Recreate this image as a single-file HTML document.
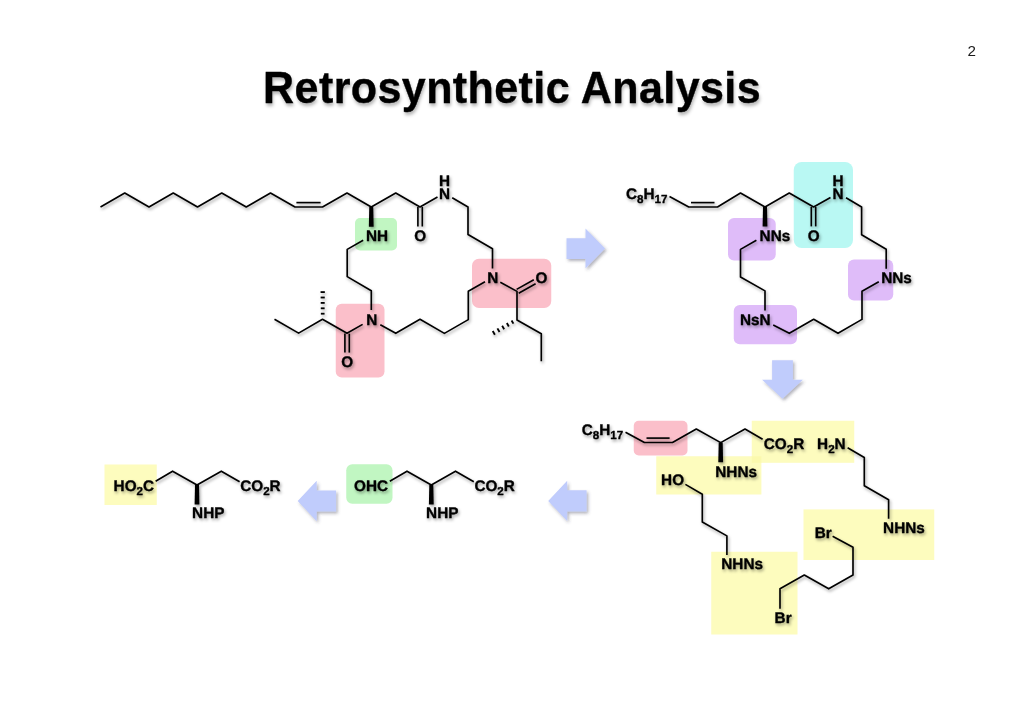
<!DOCTYPE html>
<html><head><meta charset="utf-8"><title>Retrosynthetic Analysis</title>
<style>
html,body{margin:0;padding:0;background:#fff;}
body{width:1024px;height:724px;position:relative;overflow:hidden;font-family:"Liberation Sans",sans-serif;}
#title{position:absolute;left:0;top:0;width:1024px;text-align:center;font-weight:bold;font-size:43px;line-height:43px;color:#000;white-space:nowrap;-webkit-text-stroke:0.35px #000;text-shadow:1px 2.5px 3.5px rgba(0,0,0,0.30);}
#title span{position:absolute;transform:scaleY(1.05);transform-origin:0 36.5px;left:263.1px;top:66.5px;letter-spacing:0.42px;}
#pn{position:absolute;left:967.6px;top:43.4px;font-size:15.2px;line-height:16px;color:#1a1a1a;}
#page{position:absolute;left:0;top:0;width:1024px;height:724px;filter:blur(0.45px);}
svg{position:absolute;left:0;top:0;}
svg text{font-family:"Liberation Sans",sans-serif;font-weight:bold;text-rendering:geometricPrecision;}
svg .sub{font-size:11.6px;}
svg polygon.w{fill:#000;stroke:none;}
</style></head><body>
<div id="page">
<div id="title"><span>Retrosynthetic Analysis</span></div>
<div id="pn">2</div>
<svg width="1024" height="724" viewBox="0 0 1024 724">
<defs>
<filter id="sh" x="-5%" y="-5%" width="110%" height="110%"><feGaussianBlur in="SourceGraphic" stdDeviation="0.35" result="b"/><feDropShadow in="b" dx="1.2" dy="2.0" stdDeviation="1.5" flood-color="#000" flood-opacity="0.36"/></filter>
<filter id="sha" x="-20%" y="-20%" width="150%" height="150%"><feDropShadow dx="1.6" dy="2" stdDeviation="1.4" flood-color="#3c3f55" flood-opacity="0.40"/></filter>
<filter id="soft" x="-5%" y="-5%" width="110%" height="110%"><feGaussianBlur stdDeviation="0.6"/></filter>
</defs>
<g filter="url(#soft)">
<rect x="355.00" y="218.00" width="42.00" height="32.50" rx="5" ry="5" fill="#c1f6c2"/>
<rect x="335.75" y="303.75" width="48.75" height="73.75" rx="6" ry="6" fill="#fbbfca"/>
<rect x="472.00" y="258.75" width="79.25" height="49.25" rx="7" ry="7" fill="#fbbfca"/>
<rect x="793.75" y="162.00" width="59.25" height="86.00" rx="8" ry="8" fill="#b9f8f3"/>
<rect x="728.00" y="218.00" width="47.75" height="42.50" rx="6" ry="6" fill="#dfbcf9"/>
<rect x="733.75" y="305.00" width="63.25" height="39.25" rx="6" ry="6" fill="#dfbcf9"/>
<rect x="848.00" y="259.50" width="45.25" height="41.00" rx="6" ry="6" fill="#dfbcf9"/>
<rect x="633.75" y="420.75" width="53.75" height="34.75" rx="5" ry="5" fill="#fbbfca"/>
<rect x="656.25" y="456.25" width="105.15" height="38.25" rx="0" ry="0" fill="#fdfcbe"/>
<rect x="751.75" y="420.75" width="102.50" height="42.05" rx="0" ry="0" fill="#fdfcbe"/>
<rect x="803.50" y="509.40" width="130.75" height="50.60" rx="0" ry="0" fill="#fdfcbe"/>
<rect x="711.25" y="551.75" width="86.25" height="82.75" rx="0" ry="0" fill="#fdfcbe"/>
<rect x="751.75" y="456.25" width="9.65" height="6.55" rx="0" ry="0" fill="#fbf9ae"/>
<rect x="346.25" y="464.25" width="46.25" height="39.50" rx="6" ry="6" fill="#c1f6c2"/>
<rect x="104.50" y="464.50" width="52.25" height="40.50" rx="0" ry="0" fill="#fdfcbe"/>
</g>
<g fill="#c0ccfc" filter="url(#sha)">
<polygon points="566.5,238.2 585.5,238.2 585.5,228.6 605.1,248.6 585.5,268.6 585.5,259.0 566.5,259.0"/>
<polygon points="772.1,360.3 792.9,360.3 792.9,379.7 802.9,379.7 782.5,398.7 762.1,379.7 772.1,379.7"/>
<polygon points="548.2,500.9 567.2,480.7 567.2,490.3 586.6,490.3 586.6,511.5 567.2,511.5 567.2,521.1"/>
<polygon points="297.7,501.0 316.7,480.8 316.7,490.4 336.1,490.4 336.1,511.6 316.7,511.6 316.7,521.2"/>
</g>
<g filter="url(#sh)">
<g fill="none" stroke="#000" stroke-width="1.65" stroke-linejoin="round" stroke-linecap="butt">
<polyline points="100.50,207.00 124.75,193.00 149.00,207.00 173.25,193.00 197.50,207.00 221.75,193.00 246.25,207.00 270.50,193.00 295.00,207.00 322.50,207.00 347.00,193.00 371.25,207.00 395.75,193.00 420.00,207.00 437.50,197.00"/>
<line x1="296.40" y1="202.60" x2="320.60" y2="202.60"/>
<line x1="417.90" y1="207.00" x2="417.90" y2="226.50"/>
<line x1="422.30" y1="207.00" x2="422.30" y2="226.50"/>
<polyline points="452.20,197.80 468.00,207.00 468.00,234.50 492.50,248.75 492.50,268.50"/>
<polygon class="w" points="369.25,207.00 368.85,226.80 373.65,226.80 373.25,207.00"/>
<polyline points="363.20,240.20 347.20,249.40 347.20,276.60 371.30,290.70 371.30,310.00"/>
<polyline points="380.30,324.80 395.75,333.30 420.00,319.30 444.40,333.40 468.30,319.60 468.30,291.30 485.00,281.80"/>
<polyline points="362.60,324.40 347.00,333.20 322.50,319.30 298.60,333.10 274.50,319.30"/>
<line x1="344.90" y1="333.60" x2="344.90" y2="352.60"/>
<line x1="349.30" y1="333.60" x2="349.30" y2="352.60"/>
<line stroke-width="1.85" x1="324.55" y1="313.70" x2="320.85" y2="313.70"/><line stroke-width="1.85" x1="324.62" y1="308.30" x2="320.77" y2="308.30"/><line stroke-width="1.85" x1="324.70" y1="302.90" x2="320.70" y2="302.90"/><line stroke-width="1.85" x1="324.77" y1="297.50" x2="320.62" y2="297.50"/><line stroke-width="1.85" x1="324.85" y1="292.10" x2="320.55" y2="292.10"/>
<polyline points="500.30,282.30 517.00,291.40 517.00,320.00 541.30,333.80 541.30,361.30"/>
<line x1="516.60" y1="289.40" x2="533.80" y2="279.80"/>
<line x1="518.70" y1="293.30" x2="535.60" y2="283.80"/>
<line stroke-width="1.85" x1="511.59" y1="320.45" x2="513.43" y2="323.65"/><line stroke-width="1.85" x1="506.87" y1="323.08" x2="508.80" y2="326.42"/><line stroke-width="1.85" x1="502.16" y1="325.72" x2="504.16" y2="329.18"/><line stroke-width="1.85" x1="497.44" y1="328.35" x2="499.52" y2="331.95"/><line stroke-width="1.85" x1="492.73" y1="330.99" x2="494.88" y2="334.71"/>
<polyline points="669.50,196.60 688.75,207.00 717.50,207.00 740.50,193.00 765.00,207.00 789.25,193.00 813.60,207.00 830.50,197.50"/>
<line x1="691.00" y1="202.60" x2="714.50" y2="202.60"/>
<line x1="811.30" y1="207.00" x2="811.30" y2="226.40"/>
<line x1="815.70" y1="207.00" x2="815.70" y2="226.40"/>
<polygon class="w" points="763.00,207.00 762.60,226.60 767.40,226.60 767.00,207.00"/>
<polyline points="846.00,197.80 861.60,207.00 861.60,234.80 886.20,249.30 886.20,268.80"/>
<polyline points="756.40,240.30 740.50,249.40 740.50,277.00 765.00,290.90 765.00,310.50"/>
<polyline points="773.20,324.90 789.30,333.30 813.70,319.30 838.00,333.30 862.00,319.40 862.00,291.20 878.80,281.70"/>
<polyline points="625.50,432.20 644.40,442.50 672.50,442.50 696.30,429.00 720.70,442.60 745.00,429.00 762.60,439.30"/>
<line x1="646.50" y1="438.10" x2="669.60" y2="438.10"/>
<polygon class="w" points="718.70,442.60 718.30,462.20 723.10,462.20 722.70,442.60"/>
<polyline points="685.40,484.40 702.30,494.20 702.30,522.00 726.90,535.90 726.90,555.00"/>
<polyline points="847.60,447.80 864.30,457.50 864.30,485.80 888.60,499.80 888.60,518.80"/>
<polyline points="832.60,536.20 853.00,547.20 853.00,575.00 828.70,588.80 804.30,575.00 780.00,588.80 780.00,608.80"/>
<polyline points="389.80,481.30 407.00,471.20 431.30,485.00 455.50,471.20 473.80,481.80"/>
<polygon class="w" points="429.30,485.00 428.90,504.60 433.70,504.60 433.30,485.00"/>
<polyline points="155.60,481.30 172.60,471.20 197.00,485.00 221.30,471.20 239.60,481.80"/>
<polygon class="w" points="195.00,485.00 194.60,504.60 199.40,504.60 199.00,485.00"/>
</g>
<g class="lab" fill="#000" stroke="#000" stroke-width="0.35" stroke-linejoin="round">
<text x="444.60" y="199.00" text-anchor="middle" font-size="15.3"><tspan>N</tspan></text>
<text x="444.60" y="186.00" text-anchor="middle" font-size="15.3"><tspan>H</tspan></text>
<text x="366.00" y="241.00" text-anchor="start" font-size="15.3"><tspan>NH</tspan></text>
<text x="420.20" y="241.00" text-anchor="middle" font-size="15.3"><tspan>O</tspan></text>
<text x="371.80" y="325.00" text-anchor="middle" font-size="15.3"><tspan>N</tspan></text>
<text x="347.30" y="367.00" text-anchor="middle" font-size="15.3"><tspan>O</tspan></text>
<text x="492.70" y="283.00" text-anchor="middle" font-size="15.3"><tspan>N</tspan></text>
<text x="541.40" y="283.00" text-anchor="middle" font-size="15.3"><tspan>O</tspan></text>
<text x="626.00" y="199.00" text-anchor="start" font-size="15.3"><tspan>C</tspan><tspan class="sub" dy="3.6">8</tspan><tspan dy="-3.6">H</tspan><tspan class="sub" dy="3.6">17</tspan></text>
<text x="838.10" y="199.00" text-anchor="middle" font-size="15.3"><tspan>N</tspan></text>
<text x="838.10" y="186.00" text-anchor="middle" font-size="15.3"><tspan>H</tspan></text>
<text x="813.60" y="241.00" text-anchor="middle" font-size="15.3"><tspan>O</tspan></text>
<text x="759.60" y="241.00" text-anchor="start" font-size="15.3"><tspan>NNs</tspan></text>
<text x="739.90" y="325.00" text-anchor="start" font-size="15.3"><tspan>NsN</tspan></text>
<text x="881.20" y="283.00" text-anchor="start" font-size="15.3"><tspan>NNs</tspan></text>
<text x="581.70" y="435.00" text-anchor="start" font-size="15.3"><tspan>C</tspan><tspan class="sub" dy="3.6">8</tspan><tspan dy="-3.6">H</tspan><tspan class="sub" dy="3.6">17</tspan></text>
<text x="763.80" y="449.00" text-anchor="start" font-size="15.3"><tspan>CO</tspan><tspan class="sub" dy="3.6">2</tspan><tspan dy="-3.6">R</tspan></text>
<text x="715.30" y="477.00" text-anchor="start" font-size="15.3"><tspan>NHNs</tspan></text>
<text x="661.10" y="485.00" text-anchor="start" font-size="15.3"><tspan>HO</tspan></text>
<text x="817.10" y="449.00" text-anchor="start" font-size="15.3"><tspan>H</tspan><tspan class="sub" dy="3.6">2</tspan><tspan dy="-3.6">N</tspan></text>
<text x="883.10" y="533.00" text-anchor="start" font-size="15.3"><tspan>NHNs</tspan></text>
<text x="814.70" y="538.00" text-anchor="start" font-size="15.3"><tspan>Br</tspan></text>
<text x="721.30" y="569.00" text-anchor="start" font-size="15.3"><tspan>NHNs</tspan></text>
<text x="774.60" y="623.00" text-anchor="start" font-size="15.3"><tspan>Br</tspan></text>
<text x="354.00" y="491.00" text-anchor="start" font-size="15.3"><tspan>OHC</tspan></text>
<text x="474.40" y="491.00" text-anchor="start" font-size="15.3"><tspan>CO</tspan><tspan class="sub" dy="3.6">2</tspan><tspan dy="-3.6">R</tspan></text>
<text x="426.10" y="518.00" text-anchor="start" font-size="15.3"><tspan>NHP</tspan></text>
<text x="113.60" y="491.00" text-anchor="start" font-size="15.3"><tspan>HO</tspan><tspan class="sub" dy="3.6">2</tspan><tspan dy="-3.6">C</tspan></text>
<text x="240.20" y="491.00" text-anchor="start" font-size="15.3"><tspan>CO</tspan><tspan class="sub" dy="3.6">2</tspan><tspan dy="-3.6">R</tspan></text>
<text x="192.10" y="518.00" text-anchor="start" font-size="15.3"><tspan>NHP</tspan></text>
</g>
</g>
</svg>
</div>
</body></html>
